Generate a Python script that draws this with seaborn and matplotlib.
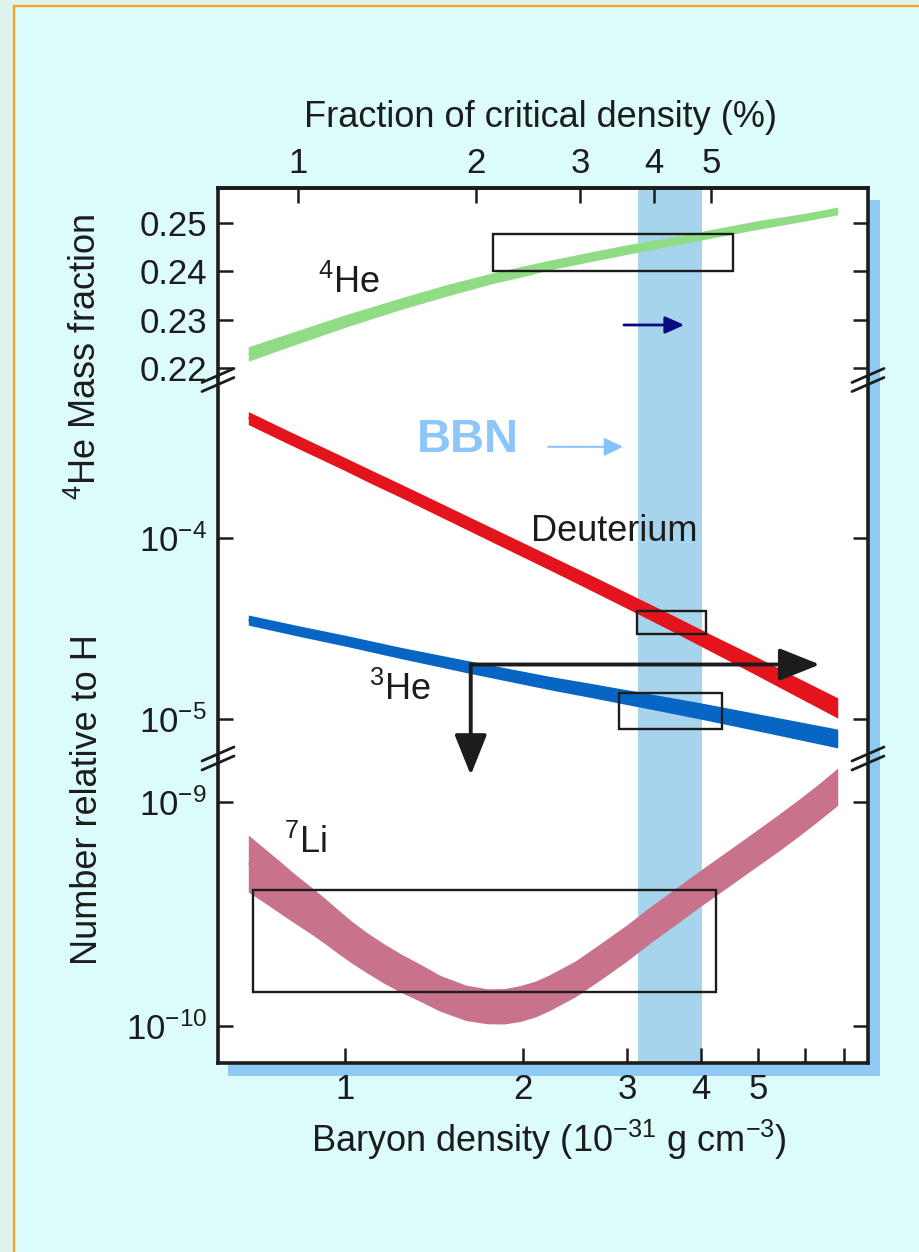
import numpy as np
import matplotlib
matplotlib.use("Agg")
import matplotlib.pyplot as plt
from matplotlib.patches import Rectangle
from matplotlib.lines import Line2D
from matplotlib.ticker import FixedLocator, FixedFormatter, NullLocator
import seaborn as sns
import pandas as pd

# ---------------------------------------------------------------------------
# Big-bang nucleosynthesis predictions versus baryon density (1e-31 g cm^-3)
# ---------------------------------------------------------------------------
he4_density = [0.686, 0.8, 1.0, 1.25, 1.5, 1.78, 2.0, 2.22, 2.6, 3.0, 3.5,
               4.06, 5.0, 6.0, 6.82]
he4_mass_fraction = [0.2229, 0.2257, 0.2297, 0.2334, 0.2362, 0.2386, 0.2400,
                     0.2413, 0.2430, 0.2445, 0.2460, 0.2475, 0.2496, 0.2512,
                     0.2525]
he4_halfwidth = [0.0015, 0.0014, 0.0013, 0.0012, 0.0012, 0.0011, 0.0011,
                 0.0010, 0.0010, 0.0010, 0.0009, 0.0009, 0.0009, 0.0008,
                 0.0008]

d_density = [0.686, 0.8, 1.0, 1.1, 1.24, 1.5, 1.8, 2.22, 2.6, 3.0, 3.55,
             4.2, 4.84, 5.8, 6.82]
d_abundance = [4.60e-4, 3.61e-4, 2.56e-4, 2.20e-4, 1.83e-4, 1.355e-4,
               1.016e-4, 7.30e-5, 5.68e-5, 4.51e-5, 3.43e-5, 2.59e-5,
               2.05e-5, 1.51e-5, 1.15e-5]
d_logwidth = [0.036, 0.036, 0.036, 0.037, 0.037, 0.038, 0.039, 0.040, 0.042,
              0.043, 0.045, 0.047, 0.050, 0.053, 0.056]

he3_density = [0.686, 0.84, 1.0, 1.24, 1.6, 2.22, 2.6, 3.0, 3.5, 4.0, 5.2, 6.82]
he3_abundance = [3.52e-5, 3.05e-5, 2.71e-5, 2.32e-5, 1.954e-5, 1.58e-5,
                 1.44e-5, 1.32e-5, 1.202e-5, 1.107e-5, 9.33e-6, 7.80e-6]
he3_logwidth = [0.028, 0.029, 0.030, 0.031, 0.034, 0.037, 0.039, 0.041,
                0.043, 0.045, 0.048, 0.052]

li7_density = [0.686, 0.73, 0.776, 0.82, 0.873, 0.925, 0.98, 1.03, 1.09,
               1.16, 1.239, 1.34, 1.448, 1.6, 1.74, 1.86, 1.979, 2.1, 2.22,
               2.45, 2.70, 3.0, 3.28, 3.6, 3.98, 4.4, 4.85, 5.4, 5.89, 6.3,
               6.82]
li7_abundance = [5.31e-10, 4.70e-10, 4.16e-10, 3.72e-10, 3.30e-10, 2.94e-10,
                 2.60e-10, 2.35e-10, 2.12e-10, 1.91e-10, 1.73e-10, 1.56e-10,
                 1.40e-10, 1.27e-10, 1.225e-10, 1.225e-10, 1.26e-10,
                 1.32e-10, 1.41e-10, 1.62e-10, 1.93e-10, 2.35e-10, 2.82e-10,
                 3.37e-10, 4.09e-10, 4.93e-10, 5.92e-10, 7.24e-10, 8.59e-10,
                 9.86e-10, 1.17e-9]
li7_logwidth = [0.127, 0.121, 0.116, 0.110, 0.105, 0.101, 0.097, 0.093,
                0.090, 0.088, 0.086, 0.083, 0.080, 0.079, 0.078, 0.079,
                0.080, 0.080, 0.080, 0.080, 0.081, 0.081, 0.081, 0.081,
                0.081, 0.081, 0.081, 0.082, 0.082, 0.082, 0.083]

# Observed abundance ranges: (density min, density max, value min, value max)
he4_box = (1.78, 4.53, 0.2401, 0.2477)
d_box = (3.12, 4.08, 2.95e-5, 3.97e-5)
he3_box = (2.91, 4.34, 8.8e-6, 1.39e-5)
li7_box = (0.700, 4.24, 1.42e-10, 4.05e-10)

# Concordance range of baryon density
bbn_range = (3.135, 4.02)

# Fraction of critical density (%) per unit baryon density
critical_factor = 1.2

x_ticks = [1, 2, 3, 4, 5, 6, 7]
x_ticklabels = ["1", "2", "3", "4", "5", "", ""]
top_ticks = [1, 2, 3, 4, 5]
he4_ticks = [0.22, 0.23, 0.24, 0.25]
mid_ticks = [1e-5, 1e-4]
low_ticks = [1e-10, 1e-9]

# Arrow coordinates
limit_corner = (1.632, 2.0e-5)
limit_right = 6.36
limit_down = 4.9e-6
bbn_arrow = (2.205, 2.954, 3.19e-4)
he4_arrow = (2.965, 3.75, 0.2289)

# ---------------------------------------------------------------------------
sns.set_theme(style="white")
plt.rcParams["font.family"] = ["Liberation Sans", "DejaVu Sans"]
plt.rcParams["mathtext.fontset"] = "custom"
plt.rcParams["mathtext.rm"] = "Liberation Sans"
plt.rcParams["mathtext.it"] = "Liberation Sans:italic"
plt.rcParams["mathtext.bf"] = "Liberation Sans:bold"
plt.rcParams["mathtext.sf"] = "Liberation Sans"

W, H = 919, 1252
INK = "#1c1c1c"
fig = plt.figure(figsize=(W / 100, H / 100), dpi=100, facecolor="#dcfcfc")


def fx(x):
    return x / W


def fy(y):
    return 1 - y / H


# page margins and orange frame
fig.add_artist(Rectangle((0, 0), fx(14), 1, transform=fig.transFigure,
                         color="#e0f4ee", zorder=-3, lw=0))
fig.add_artist(Rectangle((0, fy(6)), 1, 1 - fy(6), transform=fig.transFigure,
                         color="#e0f4ee", zorder=-3, lw=0))
fig.add_artist(Line2D([fx(14), fx(14)], [0, fy(6)], transform=fig.transFigure,
                      color="#f5a21e", lw=1.6, zorder=-2))
fig.add_artist(Line2D([fx(14), 1], [fy(6), fy(6)], transform=fig.transFigure,
                      color="#f5a21e", lw=1.6, zorder=-2))

# drop shadow behind the plotting frame
fig.add_artist(Rectangle((fx(228), fy(1076)), fx(880) - fx(228), fy(200) - fy(1076),
                         transform=fig.transFigure, color="#8ecaf4", lw=0, zorder=-1))

gs = fig.add_gridspec(3, 1, height_ratios=[190, 380, 305], hspace=0,
                      left=fx(218), right=fx(868), top=fy(188), bottom=fy(1063))
ax_top = fig.add_subplot(gs[0])
ax_mid = fig.add_subplot(gs[1])
ax_bot = fig.add_subplot(gs[2])
ax_top.set_zorder(1)
ax_mid.set_zorder(2)
ax_bot.set_zorder(1)

ax_top.set_yscale("linear")
ax_top.set_ylim(0.21793, 0.25724)
ax_mid.set_yscale("log")
ax_mid.set_ylim(10 ** -5.2155, 10 ** -3.116)
ax_bot.set_yscale("log")
ax_bot.set_ylim(10 ** -10.165, 10 ** -8.804)

xlim = (0.6096, 7.673)
for ax in (ax_top, ax_mid, ax_bot):
    ax.set_facecolor("white")
    ax.set_xscale("log")
    ax.set_xlim(*xlim)
    ax.axvspan(*bbn_range, color="#a6d4ec", lw=0, zorder=0)
    for s in ax.spines.values():
        s.set_linewidth(2.6)
        s.set_color(INK)
        s.set_capstyle("projecting")

ax_top.spines["bottom"].set_visible(False)
ax_mid.spines["top"].set_visible(False)
ax_mid.spines["bottom"].set_visible(False)
ax_bot.spines["top"].set_visible(False)

band_line = dict(lw=1, solid_capstyle="butt", legend=False)

# --- 4He mass fraction ---------------------------------------------------
he4 = pd.DataFrame({"density": he4_density, "Y": he4_mass_fraction,
                    "w": he4_halfwidth})
ax_top.fill_between(he4["density"], he4["Y"] - he4["w"], he4["Y"] + he4["w"],
                    color="#8fdc84", lw=0, zorder=2)
sns.lineplot(data=he4, x="density", y="Y", ax=ax_top, color="#8fdc84",
             zorder=2, **band_line)
ax_top.add_patch(Rectangle((he4_box[0], he4_box[2]), he4_box[1] - he4_box[0],
                           he4_box[3] - he4_box[2], fill=False, ec=INK, lw=1.7,
                           zorder=3))
ax_top.text(1.016, 0.2376, r"$\mathregular{^{4}}$He", fontsize=26, color=INK,
            ha="center", va="center", zorder=4)
ax_top.annotate("", xy=(he4_arrow[1], he4_arrow[2]), xytext=(he4_arrow[0], he4_arrow[2]),
                arrowprops=dict(arrowstyle="-|>,head_length=0.58,head_width=0.26",
                                mutation_scale=20, lw=2.0, color="#0a0a80",
                                shrinkA=0, shrinkB=0), zorder=4)

sec = ax_top.secondary_xaxis("top", functions=(lambda d: d * critical_factor,
                                               lambda f: f / critical_factor))
sec.xaxis.set_major_locator(FixedLocator(top_ticks))
sec.xaxis.set_major_formatter(FixedFormatter([str(t) for t in top_ticks]))
sec.xaxis.set_minor_locator(NullLocator())
sec.tick_params(axis="x", which="both", direction="in", length=11, width=1.8,
                color=INK, labelsize=25, pad=6, labelcolor=INK)
sec.spines["top"].set_linewidth(2.6)
sec.spines["top"].set_color(INK)

# --- D and 3He -----------------------------------------------------------
dd = pd.DataFrame({"density": d_density, "n": d_abundance, "w": d_logwidth})
ax_mid.fill_between(dd["density"], dd["n"] / 10 ** dd["w"], dd["n"] * 10 ** dd["w"],
                    color="#e3141c", lw=0, zorder=2)
sns.lineplot(data=dd, x="density", y="n", ax=ax_mid, color="#e3141c", zorder=2,
             **band_line)
h3 = pd.DataFrame({"density": he3_density, "n": he3_abundance, "w": he3_logwidth})
ax_mid.fill_between(h3["density"], h3["n"] / 10 ** h3["w"], h3["n"] * 10 ** h3["w"],
                    color="#0766c4", lw=0, zorder=2)
sns.lineplot(data=h3, x="density", y="n", ax=ax_mid, color="#0766c4", zorder=2,
             **band_line)
for b in (d_box, he3_box):
    ax_mid.add_patch(Rectangle((b[0], b[2]), b[1] - b[0], b[3] - b[2], fill=False,
                               ec=INK, lw=1.7, zorder=3))
ax_mid.text(2.85, 1.08e-4, "Deuterium", fontsize=26, color=INK, ha="center",
            va="center", zorder=4)
ax_mid.text(1.239, 1.445e-5, r"$\mathregular{^{3}}$He", fontsize=26, color=INK,
            ha="center", va="center", zorder=4)
ax_mid.text(1.615, 10 ** -3.459, "BBN", fontsize=34, fontweight="bold",
            color="#8cc6fb", ha="center", va="center", zorder=4)
ax_mid.annotate("", xy=(bbn_arrow[1], bbn_arrow[2]), xytext=(bbn_arrow[0], bbn_arrow[2]),
                arrowprops=dict(arrowstyle="-|>,head_length=0.58,head_width=0.28",
                                mutation_scale=20, lw=1.4, color="#86c2fa",
                                shrinkA=0, shrinkB=0), zorder=4)
big_head = "-|>,head_length=1.25,head_width=0.5"
ax_mid.annotate("", xy=(limit_right, limit_corner[1]), xytext=limit_corner,
                arrowprops=dict(arrowstyle=big_head, mutation_scale=20, lw=2.8,
                                color=INK, shrinkA=0, shrinkB=0),
                annotation_clip=False, zorder=5)
ax_mid.annotate("", xy=(limit_corner[0], limit_down), xytext=limit_corner,
                arrowprops=dict(arrowstyle=big_head, mutation_scale=20, lw=2.8,
                                color=INK, shrinkA=0, shrinkB=0),
                annotation_clip=False, zorder=5)

# --- 7Li -----------------------------------------------------------------
li = pd.DataFrame({"density": li7_density, "n": li7_abundance, "w": li7_logwidth})
ax_bot.fill_between(li["density"], li["n"] / 10 ** li["w"], li["n"] * 10 ** li["w"],
                    color="#c8728c", lw=0, zorder=2)
sns.lineplot(data=li, x="density", y="n", ax=ax_bot, color="#c8728c", zorder=2,
             **band_line)
ax_bot.add_patch(Rectangle((li7_box[0], li7_box[2]), li7_box[1] - li7_box[0],
                           li7_box[3] - li7_box[2], fill=False, ec=INK, lw=1.7,
                           zorder=3))
ax_bot.text(0.856, 6.57e-10, r"$\mathregular{^{7}}$Li", fontsize=26, color=INK,
            ha="center", va="center", zorder=4)

# --- ticks (after the seaborn calls, which reset labels) -------------------
for ax in (ax_top, ax_mid, ax_bot):
    ax.set_xscale("log")
    ax.set_xlim(*xlim)
    ax.set_xlabel("")
    ax.set_ylabel("")
    ax.tick_params(axis="y", which="both", left=True, right=True, direction="in",
                   length=11, width=1.8, color=INK, labelsize=25, pad=8,
                   labelcolor=INK)
    ax.yaxis.set_minor_locator(NullLocator())
    ax.xaxis.set_minor_locator(NullLocator())

ax_top.yaxis.set_major_locator(FixedLocator(he4_ticks))
ax_top.yaxis.set_major_formatter(FixedFormatter([f"{v:.2f}" for v in he4_ticks]))
ax_mid.yaxis.set_major_locator(FixedLocator(mid_ticks))
ax_mid.yaxis.set_major_formatter(FixedFormatter(
    [r"$\mathregular{10^{-5}}$", r"$\mathregular{10^{-4}}$"]))
ax_bot.yaxis.set_major_locator(FixedLocator(low_ticks))
ax_bot.yaxis.set_major_formatter(FixedFormatter(
    [r"$\mathregular{10^{-10}}$", r"$\mathregular{10^{-9}}$"]))

for ax in (ax_top, ax_mid):
    ax.tick_params(axis="x", which="both", bottom=False, top=False,
                   labelbottom=False, labeltop=False)
ax_bot.xaxis.set_major_locator(FixedLocator(x_ticks))
ax_bot.xaxis.set_major_formatter(FixedFormatter(x_ticklabels))
ax_bot.tick_params(axis="x", which="both", bottom=True, top=False, direction="in",
                   length=11, width=1.8, color=INK, labelsize=25, pad=7,
                   labelcolor=INK)

# axis titles
fig.text(fx(540), fy(127), "Fraction of critical density (%)", fontsize=26,
         color=INK, ha="center", va="baseline")
fig.text(fx(549), fy(1152), r"Baryon density (10$\mathregular{^{-31}}$ g cm$\mathregular{^{-3}}$)",
         fontsize=26, color=INK, ha="center", va="baseline")
fig.text(fx(86), fy(357), r"$\mathregular{^{4}}$He Mass fraction", fontsize=26,
         color=INK, rotation=90, ha="center", va="center")
fig.text(fx(88), fy(800), "Number relative to H", fontsize=26, color=INK,
         rotation=90, ha="center", va="center")

# axis-break marks on both vertical spines
for yb in (380, 758.5):
    for xs in (218, 868):
        for dy in (-4.5, 4.5):
            y0 = yb + dy
            fig.add_artist(Line2D([fx(xs - 16), fx(xs + 16)], [fy(y0 + 7), fy(y0 - 7)],
                                  transform=fig.transFigure, color=INK, lw=2.0,
                                  zorder=10))

fig.savefig("out.png", dpi=100, facecolor=fig.get_facecolor())
